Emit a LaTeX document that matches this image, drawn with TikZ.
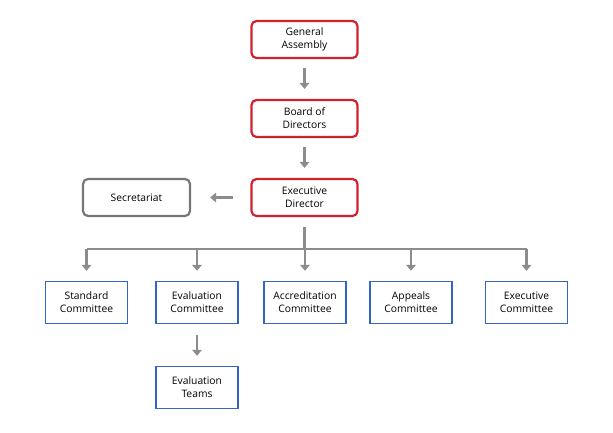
\documentclass[tikz,border=0pt]{standalone}
\usepackage{fontspec}
\setmainfont{Open Sans}
\usetikzlibrary{arrows.meta}
\definecolor{redb}{HTML}{D3202E}
\definecolor{grayb}{HTML}{777777}
\definecolor{bluec}{HTML}{3366C4}
\definecolor{arrowc}{HTML}{8C8C8C}
\begin{document}
\begin{tikzpicture}[x=1pt,y=-1pt,
  font=\fontsize{10.3}{13}\selectfont,
  redbox/.style={draw=redb,line width=2.2pt,rounded corners=5pt,minimum width=106pt,minimum height=37pt,align=center,inner sep=0pt},
  graybox/.style={draw=grayb,line width=2.2pt,rounded corners=5pt,minimum width=107pt,minimum height=37pt,align=center,inner sep=0pt},
  bluebox/.style={draw=bluec,line width=1.4pt,minimum width=82pt,minimum height=42pt,align=center,inner sep=0pt},
  conn/.style={draw=arrowc,line width=2.6pt},
  arr/.style={conn,-{Triangle[width=9.5pt,length=6pt]}}
]
\useasboundingbox (0,0) rectangle (613,432);
\node[redbox] (ga) at (304.5,39.5) {General\\Assembly};
\node[redbox] (bd) at (304.5,118.5) {Board of\\Directors};
\node[redbox] (ed) at (304.5,197.5) {Executive\\Director};
\node[graybox] (sec) at (136.5,197.5) {Secretariat};
\node[bluebox] (sc) at (86.5,302.5) {Standard\\Committee};
\node[bluebox] (ec) at (197,302.5) {Evaluation\\Committee};
\node[bluebox] (ac) at (305,302.5) {Accreditation\\Committee};
\node[bluebox] (apc) at (411,302.5) {Appeals\\Committee};
\node[bluebox] (exc) at (526.5,302.5) {Executive\\Committee};
\node[bluebox] (et) at (197,387.5) {Evaluation\\Teams};
\coordinate (hub) at (304.5,249);
\draw[arr,shorten <=9pt,shorten >=10pt] (ga) -- (bd);
\draw[arr,shorten <=9pt,shorten >=10pt] (bd) -- (ed);
\draw[arr,shorten <=17pt,shorten >=19pt] (ed) -- (sec);
\draw[conn,shorten <=10pt] (ed.south) -- (hub);
\draw[conn] (sc.north |- hub) -- (exc.north |- hub);
\foreach \n in {sc,ec,ac,apc,exc}{
  \draw[arr,shorten >=10pt] (\n.north |- hub) -- (\n.north);
}
\draw[arr,shorten <=11pt,shorten >=10pt] (ec) -- (et);
\end{tikzpicture}
\end{document}
